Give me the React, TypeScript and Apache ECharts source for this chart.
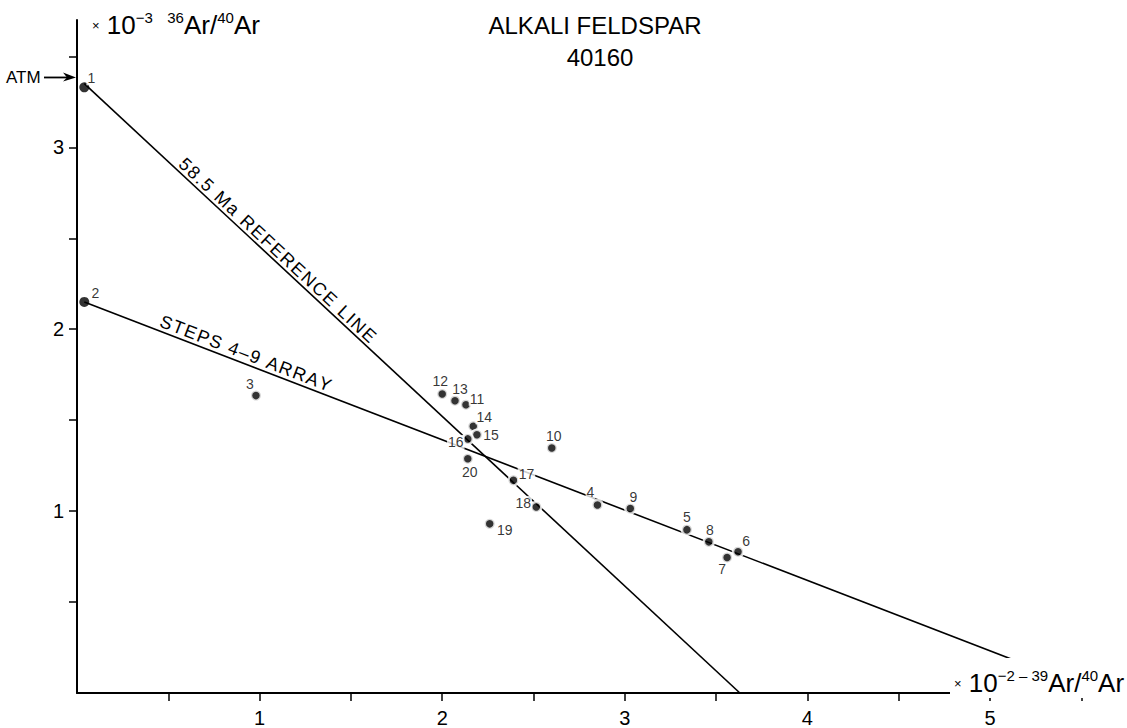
import React, { useEffect, useRef } from "react";
import * as echarts from "echarts";

const FONT = "'Liberation Sans', Arial, Helvetica, sans-serif";

// Step numbers and their coordinates (x: 39Ar/40Ar ×10^-2, y: 36Ar/40Ar ×10^-3)
const stepNames = ["1", "2", "3", "4", "5", "6", "7", "8", "9", "10", "11", "12", "13", "14", "15", "16", "17", "18", "19", "20"];
const stepX = [0.04, 0.04, 0.98, 2.85, 3.34, 3.62, 3.56, 3.46, 3.03, 2.6, 2.13, 2.0, 2.07, 2.17, 2.19, 2.14, 2.39, 2.515, 2.26, 2.14];
const stepY = [3.33, 2.15, 1.635, 1.034, 0.898, 0.777, 0.745, 0.831, 1.014, 1.347, 1.585, 1.644, 1.607, 1.466, 1.42, 1.397, 1.169, 1.023, 0.93, 1.288];

// label placement (style only): pixel offsets of each step number from its dot
const labelOffsets = [
  [7, -9], [11, -9], [-6, -12], [-7, -13], [0, -13], [8, -11], [-5, 12], [1, -12], [3, -12], [2, -12],
  [11, -6], [-2, -13], [5, -12], [11, -9], [14, 0], [-12, 3], [13, -6], [-13, -4], [15, 6], [2, 13],
];

// axis ticks and labels
const xTickValues = [0.5, 1, 1.5, 2, 2.5, 3, 3.5, 4, 4.5, 5, 5.5];
const xLabelValues = [1, 2, 3, 4, 5];
const yTickValues = [0.5, 1, 1.5, 2, 2.5, 3, 3.5];
const yLabelValues = [1, 2, 3];

// reference lines (end points in data units)
const refLine = [[0.04, 3.35], [3.63, 0]];
const arrayLine = [[0.04, 2.15], [5.6, 0]];
const atmRatio = 3.384;

export default function App() {
  const ref = useRef<HTMLDivElement>(null);

  useEffect(() => {
    if (!ref.current) return;
    const chart = echarts.init(ref.current, null, { renderer: "svg" });

    const scatterData = stepX.map((x, i) => ({
      value: [x, stepY[i]],
      name: stepNames[i],
      label: { offset: labelOffsets[i] },
      itemStyle: x < 0.1 ? { borderWidth: 0 } : undefined,
    }));

    const axisCommon = {
      type: "value",
      splitLine: { show: false },
      axisLine: { show: true, lineStyle: { color: "#000", width: 2 } },
    };

    chart.setOption({
      animation: false,
      backgroundColor: "#fff",
      grid: { left: 77, right: 0, top: 20, bottom: 34.5, containLabel: false },
      xAxis: {
        ...axisCommon,
        min: 0,
        max: 5.75,
        interval: 0.5,
        axisTick: { show: true, length: 8, customValues: xTickValues, lineStyle: { color: "#000", width: 1.5 } },
        axisLabel: { customValues: xLabelValues, fontSize: 20, margin: 15, color: "#000", fontFamily: FONT },
      },
      yAxis: {
        ...axisCommon,
        min: 0,
        max: 3.7,
        interval: 0.5,
        axisTick: { show: true, length: 8, customValues: yTickValues, lineStyle: { color: "#000", width: 1.5 } },
        axisLabel: { customValues: yLabelValues, fontSize: 20, margin: 13, color: "#000", fontFamily: FONT },
      },
      series: [
        {
          type: "line",
          data: refLine,
          symbol: "none",
          silent: true,
          z: 1,
          lineStyle: { color: "#000", width: 1.6 },
        },
        {
          type: "line",
          data: arrayLine,
          symbol: "none",
          silent: true,
          z: 1,
          lineStyle: { color: "#000", width: 1.6 },
        },
        {
          type: "scatter",
          data: scatterData,
          symbolSize: 10,
          z: 3,
          itemStyle: { color: "#000", borderColor: "#fff", borderWidth: 2.5 },
          label: {
            show: true,
            position: "inside",
            formatter: "{b}",
            fontSize: 14,
            color: "#000",
            fontFamily: FONT,
            backgroundColor: "#fff",
            padding: [0, 1],
            align: "center",
            verticalAlign: "middle",
          },
        },
      ],
    });

    const px = (x: number, y: number) => chart.convertToPixel({ gridIndex: 0 }, [x, y]) as number[];

    const ctx = document.createElement("canvas").getContext("2d");

    // text laid along a line, with a little letter spacing
    const lineLabel = (line: number[][], atX: number, dist: number, text: string, fontSize: number, spacing: number) => {
      const p0 = px(line[0][0], line[0][1]);
      const p1 = px(line[1][0], line[1][1]);
      const t = (atX - line[0][0]) / (line[1][0] - line[0][0]);
      const y = line[0][1] + t * (line[1][1] - line[0][1]);
      const c = px(atX, y);
      const ang = Math.atan2(p1[1] - p0[1], p1[0] - p0[0]);
      const chars = Array.from(text);
      let widths: number[];
      if (ctx) {
        ctx.font = `${fontSize}px ${FONT}`;
        widths = chars.map((ch) => ctx.measureText(ch).width);
      } else {
        widths = chars.map(() => fontSize * 0.6);
      }
      const total = widths.reduce((a, b) => a + b, 0) + spacing * (chars.length - 1);
      let cur = -total / 2;
      const children = chars.map((ch, i) => {
        const cx = cur + widths[i] / 2;
        cur += widths[i] + spacing;
        return {
          type: "text",
          x: cx,
          y: 0,
          style: {
            text: ch,
            fontSize,
            fontFamily: FONT,
            fill: "#000",
            align: "center",
            verticalAlign: "middle",
          },
        };
      });
      return {
        type: "group",
        x: c[0] + dist * Math.sin(ang),
        y: c[1] - dist * Math.cos(ang),
        rotation: -ang,
        z: 50,
        children,
      };
    };

    const pa = px(0, atmRatio);
    const richAxis = {
      m: { fontSize: 13, lineHeight: 30, fontFamily: FONT, fill: "#000" },
      b: { fontSize: 26, lineHeight: 30, fontFamily: FONT, fill: "#000" },
      s: { fontSize: 15, lineHeight: 16, verticalAlign: "top", fontFamily: FONT, fill: "#000" },
    };

    chart.setOption({
      graphic: [
        {
          type: "text",
          x: 595,
          y: 25,
          z: 50,
          style: { text: "ALKALI FELDSPAR", fontSize: 24, fontFamily: FONT, fill: "#000", align: "center", verticalAlign: "middle" },
        },
        {
          type: "text",
          x: 600,
          y: 57,
          z: 50,
          style: { text: "40160", fontSize: 24, fontFamily: FONT, fill: "#000", align: "center", verticalAlign: "middle" },
        },
        {
          type: "text",
          x: 92,
          y: 25,
          z: 50,
          style: {
            text: "{m|×} {b|10}{s|−3}{b|  }{s|36}{b|Ar/}{s|40}{b|Ar}",
            rich: richAxis,
            fontSize: 26,
            fontFamily: FONT,
            fill: "#000",
            align: "left",
            verticalAlign: "middle",
          },
        },
        {
          type: "text",
          x: 950,
          y: 678,
          z: 50,
          style: {
            text: "{m|×} {b|10}{s|−2 – 39}{b|Ar/}{s|40}{b|Ar}",
            rich: richAxis,
            fontSize: 26,
            fontFamily: FONT,
            fill: "#000",
            align: "left",
            verticalAlign: "middle",
            backgroundColor: "#fff",
            padding: [10, 4, 0, 4],
          },
        },
        {
          type: "text",
          x: 6,
          y: pa[1],
          z: 50,
          style: { text: "ATM", fontSize: 17, fontFamily: FONT, fill: "#000", align: "left", verticalAlign: "middle" },
        },
        {
          type: "line",
          z: 50,
          shape: { x1: 44, y1: pa[1], x2: pa[0] - 6, y2: pa[1] },
          style: { stroke: "#000", lineWidth: 1.8 },
        },
        {
          type: "polygon",
          z: 50,
          shape: { points: [[pa[0] - 1, pa[1]], [pa[0] - 14, pa[1] - 5], [pa[0] - 10, pa[1]], [pa[0] - 14, pa[1] + 4]] },
          style: { fill: "#000" },
        },
        lineLabel(refLine, 1.062, 9.5, "58.5 Ma REFERENCE LINE", 18, 1.7),
        lineLabel(arrayLine, 0.904, 10, "STEPS 4–9 ARRAY", 18, 1.5),
      ],
    });

    return () => chart.dispose();
  }, []);

  return (
    <div
      ref={ref}
      style={{ position: "absolute", left: 0, top: 0, width: 1127, height: 728, background: "#fff" }}
    />
  );
}
